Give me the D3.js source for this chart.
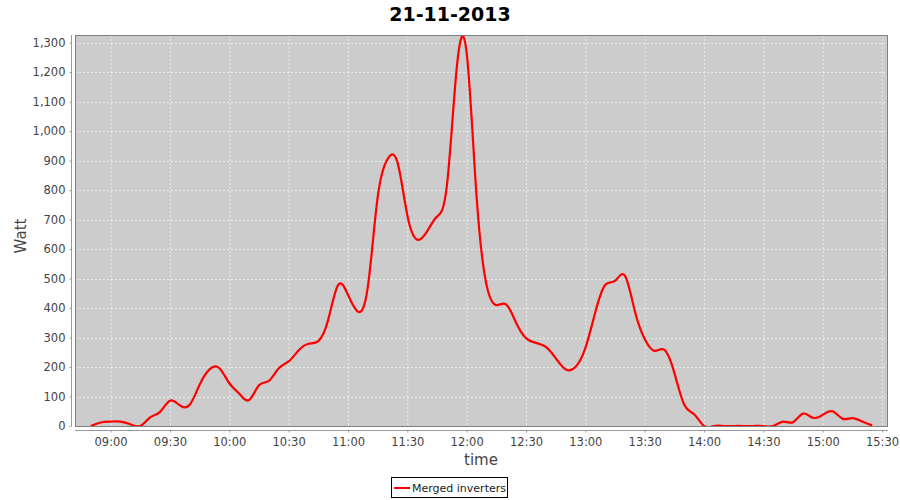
<!DOCTYPE html>
<html><head><meta charset="utf-8">
<script src="https://cdn.jsdelivr.net/npm/d3@7"></script>
<style>body{margin:0;background:#fff;}svg{display:block;font-family:"DejaVu Sans",sans-serif;}</style>
</head><body><svg id="c" width="900" height="500"></svg>
<script>
const title = "21-11-2013";
const seriesName = "Merged inverters";
const xLabel = "time";
const yLabel = "Watt";
const times = ["08:50","08:55","09:00","09:05","09:10","09:15","09:20","09:25","09:30","09:35","09:40","09:45","09:50","09:55",
"10:00","10:05","10:10","10:15","10:20","10:25","10:30","10:35","10:40","10:45","10:50","10:55",
"11:00","11:05","11:10","11:15","11:20","11:25","11:30","11:35","11:40","11:45","11:50","11:55",
"12:00","12:05","12:10","12:15","12:20","12:25","12:30","12:35","12:40","12:45","12:50","12:55",
"13:00","13:05","13:10","13:15","13:20","13:25","13:30","13:35","13:40","13:45","13:50","13:55",
"14:00","14:05","14:10","14:15","14:20","14:25","14:30","14:35","14:40","14:45","14:50","14:55",
"15:00","15:05","15:10","15:15","15:20","15:25"];
const watts = [0,12,15,15,6,0,29,48,86,70,72,140,192,196,
145,110,88,138,153,196,219,256,279,288,360,478,
445,388,470,775,905,895,715,632,660,710,815,1215,
1265,780,480,410,412,350,298,282,268,230,192,200,
264,385,478,492,510,390,295,255,258,180,72,40,
0,0,0,0,0,0,0,0,15,13,42,28,
38,50,25,27,15,2];
const xTicks = ["09:00","09:30","10:00","10:30","11:00","11:30","12:00","12:30","13:00","13:30","14:00","14:30","15:00","15:30"];
const yTicks = [0,100,200,300,400,500,600,700,800,900,1000,1100,1200,1300];
const xDomain = ["08:42","15:33"];
const yDomain = [0,1326];

const parse = d3.timeParse("%Y-%m-%d %H:%M");
const T = s => parse("2013-11-21 " + s);
const data = times.map((t,i)=>({t:T(t), v:watts[i]}));

const L=75, R=888, TOP=35, B=426;
const svg = d3.select("#c");
const x = d3.scaleTime().domain(xDomain.map(T)).range([L,R]);
const y = d3.scaleLinear().domain(yDomain).range([B,TOP]);

svg.append("rect").attr("x",L).attr("y",TOP).attr("width",R-L).attr("height",B-TOP).attr("fill","#cccccc");

// grid
const g = svg.append("g");
g.selectAll("line.gx").data(xTicks).join("line").attr("x1",d=>x(T(d))+0.5).attr("x2",d=>x(T(d))+0.5)
 .attr("y1",TOP).attr("y2",B).attr("stroke","#f2f2f2").attr("stroke-width",0.8).attr("stroke-dasharray","2,2");
g.selectAll("line.gy").data(yTicks).join("line").attr("y1",d=>Math.round(y(d))+0.5).attr("y2",d=>Math.round(y(d))+0.5)
 .attr("x1",L).attr("x2",R).attr("stroke","#f2f2f2").attr("stroke-width",0.8).attr("stroke-dasharray","2,2");

// line
const line = d3.line().x(d=>x(d.t)).y(d=>y(d.v)).curve(d3.curveNatural);
svg.append("defs").append("clipPath").attr("id","clip").append("rect").attr("x",L).attr("y",TOP).attr("width",R-L).attr("height",B-TOP);
svg.append("path").datum(data).attr("d",line).attr("fill","none").attr("stroke","#ff0000").attr("stroke-width",2.2).attr("clip-path","url(#clip)");

svg.append("rect").attr("x",L+0.5).attr("y",TOP+0.5).attr("width",R-L-1).attr("height",B-TOP).attr("fill","none").attr("stroke","#808080");

// axes
const yAxis = d3.axisLeft(y).tickValues(yTicks).tickSize(2).tickPadding(4).tickFormat(d3.format(","));
const ya = svg.append("g").attr("transform","translate(71.5,0)").call(yAxis);
ya.select(".domain").attr("stroke","#999").attr("d",`M0,${TOP}V${B}`);
ya.selectAll(".tick line").attr("stroke","#999");
ya.selectAll("text").attr("fill","#444").attr("font-size",11.5).attr("font-family","DejaVu Sans");

const xAxis = d3.axisBottom(x).tickValues(xTicks.map(T)).tickSize(2).tickPadding(5).tickFormat(d3.timeFormat("%H:%M"));
const xa = svg.append("g").attr("transform","translate(0,430.5)").call(xAxis);
xa.select(".domain").attr("stroke","#999").attr("d",`M${L},0H${R}`);
xa.selectAll(".tick line").attr("stroke","#999");
xa.selectAll("text").attr("fill","#444").attr("font-size",11.5).attr("font-family","DejaVu Sans");

svg.append("text").attr("x",450).attr("y",21).attr("text-anchor","middle").attr("font-size",19).attr("font-weight","bold").attr("fill","#000").text(title);
svg.append("text").attr("x",481).attr("y",465).attr("text-anchor","middle").attr("font-size",15).attr("fill","#444").text(xLabel);
svg.append("text").attr("transform","translate(26,236) rotate(-90)").attr("text-anchor","middle").attr("font-size",15).attr("fill","#444").text(yLabel);

// legend
const lg = svg.append("g");
lg.append("rect").attr("x",391.5).attr("y",477.5).attr("width",116).attr("height",20).attr("fill","#fff").attr("stroke","#000");
lg.append("line").attr("x1",394).attr("x2",410).attr("y1",488).attr("y2",488).attr("stroke","#ff0000").attr("stroke-width",2);
lg.append("text").attr("x",412).attr("y",492).attr("font-size",11).attr("fill","#222").text(seriesName);
</script></body></html>
